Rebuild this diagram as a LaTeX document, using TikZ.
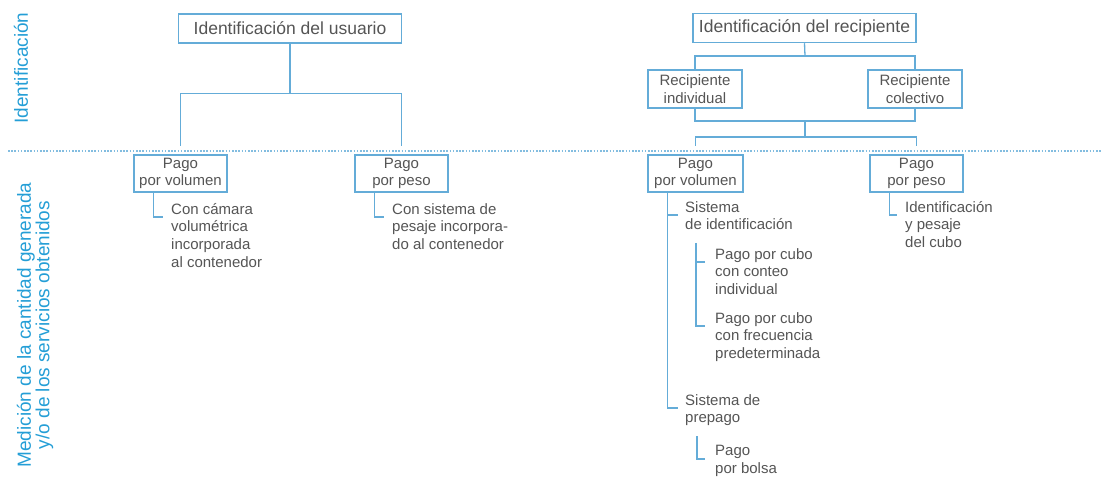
\documentclass[tikz,border=0pt]{standalone}
\usepackage{fontspec}
\setmainfont{Liberation Sans}
\definecolor{lineblue}{RGB}{100,172,216}
\definecolor{labelblue}{RGB}{36,158,214}
\definecolor{txt}{RGB}{85,85,85}
\begin{document}
\begin{tikzpicture}[x=1pt,y=-1pt,
 box/.style={draw=lineblue,line width=1.5pt,fill=white,inner sep=0pt,align=center,text=txt,font=\fontsize{15}{17.6}\selectfont},
 bigbox/.style={box,minimum width=223pt,minimum height=29pt,font=\fontsize{17.5}{20}\selectfont},
 smallbox/.style={box,minimum width=93pt,minimum height=37pt},
 item/.style={anchor=north west,inner sep=0pt,align=left,text=txt,font=\fontsize{15}{17.6}\selectfont,
   execute at begin node={\rule{0pt}{14pt}}},
 conn/.style={draw=lineblue,line width=1.3pt},
 lab/.style={rotate=90,text=labelblue,align=center,font=\fontsize{19}{18.5}\selectfont},
 sep/.style={draw=lineblue!80,line width=1.2pt,dash pattern=on 1.6pt off 1.6pt}]
\useasboundingbox (0,0) rectangle (1102,478);

% labels
\node[lab] (lid) at (21,68) {Identificación};
\node[lab] (lmed) at (35,325) {Medición de la cantidad generada\\y/o de los servicios obtenidos};

% separator
\coordinate (sl) at (8,151);
\coordinate (sr) at (1102,151);
\draw[sep] (sl) -- (sr);

% boxes
\node[bigbox] (u) at (290,28.5) {Identificación del usuario};
\node[bigbox] (r) at (804.5,28) {Identificación del recipiente};
\node[smallbox,minimum width=94pt,minimum height=38pt] (ri) at (695,89) {Recipiente\\individual};
\node[smallbox,minimum width=94pt,minimum height=38pt] (rc) at (915,89) {Recipiente\\colectivo};
\node[smallbox] (pv1) at (180.5,173.5) {Pago\\por volumen};
\node[smallbox] (pp1) at (401.5,173.5) {Pago\\por peso};
\node[smallbox,minimum width=95pt] (pv2) at (695.5,173.5) {Pago\\por volumen};
\node[smallbox] (pp2) at (916.5,173.5) {Pago\\por peso};

% upper connectors, left
\coordinate (uj) at (290,93.5);
\coordinate (l1) at (180.5,146);
\coordinate (l2) at (401.5,146);
\draw[conn] (u.south) -- (uj);
\draw[conn] (l1) |- (uj) -| (l2);

% upper connectors, right
\coordinate (rj1) at (805,56);
\coordinate (rj2) at (805,121);
\coordinate (rj3) at (805,137);
\coordinate (l3) at (695.5,146);
\coordinate (l4) at (916.5,146);
\draw[conn] (r.south) -- (rj1);
\draw[conn] (ri.north) |- (rj1) -| (rc.north);
\draw[conn] (ri.south) |- (rj2) -| (rc.south);
\draw[conn] (rj2) -- (rj3);
\draw[conn] (l3) |- (rj3) -| (l4);

% left lower items (node top = first baseline - 14)
\coordinate (v1) at ([xshift=20pt]pv1.south west);
\node[item] (a1) at (171,203) {Con cámara\\volumétrica\\incorporada\\al contenedor};
\draw[conn] (v1) |- ([xshift=-8pt,yshift=-14pt]a1.north west);

\coordinate (v2) at ([xshift=20pt]pp1.south west);
\node[item] (a2) at (392,203) {Con sistema de\\pesaje incorpora-\\do al contenedor};
\draw[conn] (v2) |- ([xshift=-8pt,yshift=-14pt]a2.north west);

% right lower items
\coordinate (v3) at ([xshift=20pt]pv2.south west);
\node[item] (b1) at (685,201) {Sistema\\de identificación};
\node[item] (b2) at (715,248) {Pago por cubo\\con conteo\\individual};
\node[item] (b3) at (715,312) {Pago por cubo\\con frecuencia\\predeterminada};
\node[item] (b4) at (685,394) {Sistema de\\prepago};
\node[item] (b5) at (715,445) {Pago\\por bolsa};
\draw[conn] (v3) |- ([xshift=-7pt,yshift=-14pt]b4.north west);
\draw[conn] ([xshift=-7pt,yshift=-14pt]b1.north west) -- ([yshift=-14pt]b1.north west -| v3);
\coordinate (v4) at (696,243);
\draw[conn] (v4) |- ([xshift=-10pt,yshift=-14pt]b3.north west);
\draw[conn] ([xshift=-10pt,yshift=-14pt]b2.north west) -- ([yshift=-14pt]b2.north west -| v4);
\coordinate (v5) at (697,436);
\draw[conn] (v5) |- ([xshift=-10pt,yshift=-14pt]b5.north west);

\coordinate (v6) at ([xshift=20pt]pp2.south west);
\node[item] (c1) at (905,201) {Identificación\\y pesaje\\del cubo};
\draw[conn] (v6) |- ([xshift=-8pt,yshift=-14pt]c1.north west);
\end{tikzpicture}
\end{document}
